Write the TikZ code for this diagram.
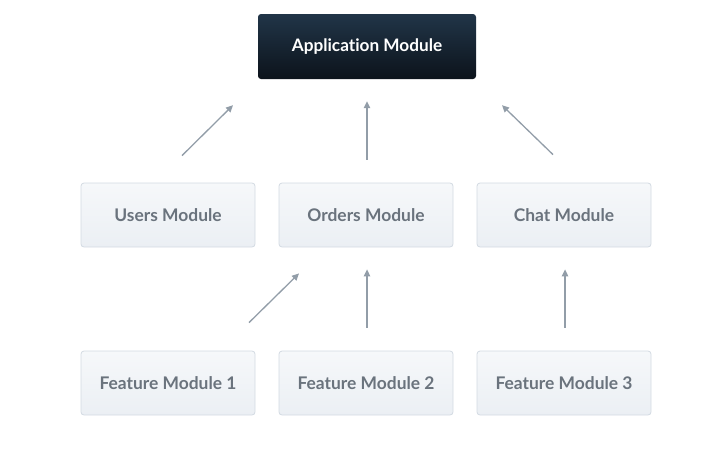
\documentclass[tikz,border=0pt]{standalone}
\usepackage{fontspec}
\setmainfont{Lato}[Ligatures={NoCommon,NoRare,NoContextual}]
\usetikzlibrary{arrows.meta,calc}
\definecolor{navytop}{HTML}{213548}
\definecolor{navybot}{HTML}{0C131B}
\definecolor{boxtop}{HTML}{F6F8FA}
\definecolor{boxbot}{HTML}{EBEFF4}
\definecolor{boxline}{HTML}{D3DAE2}
\definecolor{boxtext}{HTML}{6A737D}
\definecolor{arrowgray}{HTML}{929DA8}
\begin{document}
\begin{tikzpicture}[x=1pt,y=-1pt,
rootblock/.style={rectangle,rounded corners=3pt,top color=navytop,bottom color=navybot,draw=none,minimum width=218pt,minimum height=65pt,text=white,font=\fontsize{17.2}{20}\selectfont\bfseries},
modblock/.style={rectangle,rounded corners=3pt,top color=boxtop,bottom color=boxbot,draw=boxline,line width=0.8pt,minimum width=174pt,minimum height=64pt,text=boxtext,font=\fontsize{17.4}{20}\selectfont\bfseries},
dep/.style={draw=arrowgray,line width=1.3pt,-{Triangle[length=7pt,width=6.5pt]}}]

\useasboundingbox (0,0) rectangle (712,458);

\node[rootblock] (app) at (367,46.5) {Application Module};

\node[modblock] (users)  at (168,215) {Users Module};
\node[modblock] (orders) at (366,215) {Orders Module};
\node[modblock] (chat)   at (564,215) {Chat Module};

\node[modblock] (feat1) at (168,383) {Feature Module 1};
\node[modblock] (feat2) at (366,383) {Feature Module 2};
\node[modblock] (feat3) at (564,383) {Feature Module 3};

% free-floating arrow ends
\coordinate (u0) at ($(users.north)+(14,-27)$);
\coordinate (u1) at ($(app.south)+(-134,26)$);
\coordinate (o0) at ($(orders.north)+(1,-23)$);
\coordinate (o1) at ($(app.south)+(0,22)$);
\coordinate (c0) at ($(chat.north)+(-11,-28)$);
\coordinate (c1) at ($(app.south)+(135,26)$);

\coordinate (f10) at ($(feat1.north)+(81,-28)$);
\coordinate (f11) at ($(orders.south)+(-67,26)$);
\coordinate (f20) at ($(feat2.north)+(1,-23)$);
\coordinate (f21) at ($(orders.south)+(1,22)$);
\coordinate (f30) at ($(feat3.north)+(1,-23)$);
\coordinate (f31) at ($(chat.south)+(1,22)$);

\draw[dep] (u0) -- (u1);
\draw[dep] (o0) -- (o1);
\draw[dep] (c0) -- (c1);
\draw[dep] (f10) -- (f11);
\draw[dep] (f20) -- (f21);
\draw[dep] (f30) -- (f31);

\end{tikzpicture}
\end{document}
